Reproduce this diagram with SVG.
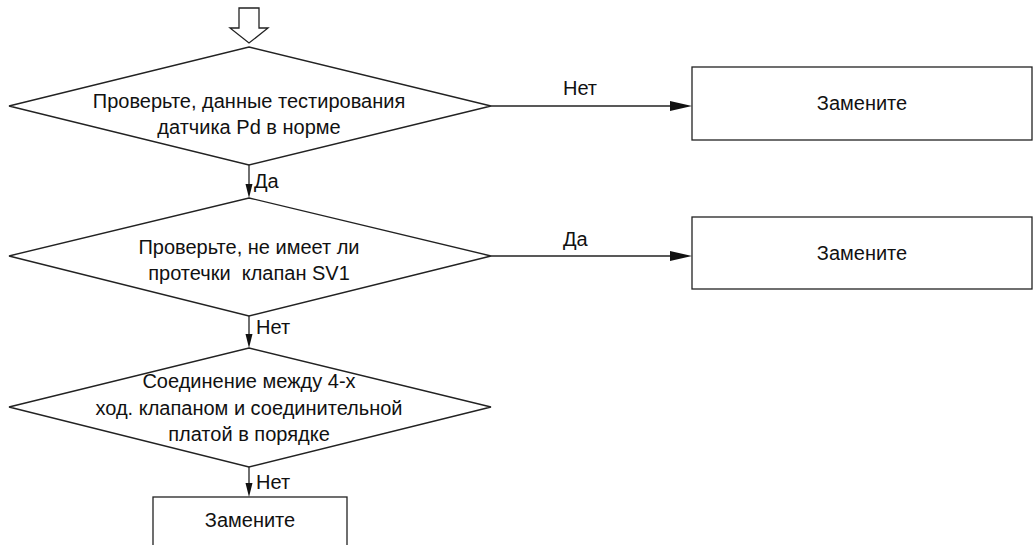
<svg xmlns="http://www.w3.org/2000/svg" width="1035" height="545" viewBox="0 0 1035 545">
<style>
.sh{fill:#fff;stroke:#222;stroke-width:1.3}
.ln{fill:none;stroke:#222;stroke-width:1.3}
.ah{fill:#111;stroke:none}
text{font-family:"Liberation Sans",Arial,sans-serif;font-size:20px;fill:#111}
.c{text-anchor:middle}
</style>
<rect width="1035" height="545" fill="#fff"/>
<g id="start-arrow">
<polygon class="sh" points="239,8 259,8 259,28 268,28 249,43 230,28 239,28"/>
</g>
<g id="d1">
<polygon class="sh" points="249,47 491,106 249,165 9,106"/>
<text class="c" x="249" y="108">Проверьте, данные тестирования</text>
<text class="c" x="249" y="134">датчика Pd в норме</text>
</g>
<g id="r1">
<rect class="sh" x="692" y="67" width="340" height="73"/>
<text class="c" x="862" y="110">Замените</text>
</g>
<g id="d2">
<polygon class="sh" points="249,198 491,256 249,316 9,256"/>
<text class="c" x="249" y="254">Проверьте, не имеет ли</text>
<text class="c" x="249" y="280" xml:space="preserve">протечки  клапан SV1</text>
</g>
<g id="r2">
<rect class="sh" x="692" y="217" width="340" height="72"/>
<text class="c" x="862" y="260">Замените</text>
</g>
<g id="d3">
<polygon class="sh" points="249,348 491,407 249,467 9,407"/>
<text class="c" x="249" y="388">Соединение между 4-х</text>
<text class="c" x="249" y="415">ход. клапаном и соединительной</text>
<text class="c" x="249" y="441">платой в порядке</text>
</g>
<g id="r3">
<rect class="sh" x="153" y="497" width="194" height="60"/>
<text class="c" x="250" y="527">Замените</text>
</g>
<g id="connectors">
<line class="ln" x1="491" y1="106" x2="672" y2="106"/>
<polygon class="ah" points="692,106 670,101 670,111"/>
<text class="c" x="580" y="95">Нет</text>
<line class="ln" x1="491" y1="256" x2="672" y2="256"/>
<polygon class="ah" points="692,256 670,251 670,261"/>
<text x="563" y="246">Да</text>
<line class="ln" x1="249" y1="165" x2="249" y2="186"/>
<polygon class="ah" points="249,198 245.5,184 252.5,184"/>
<text x="254" y="188">Да</text>
<line class="ln" x1="249" y1="316" x2="249" y2="336"/>
<polygon class="ah" points="249,348 245.5,334 252.5,334"/>
<text x="256" y="334">Нет</text>
<line class="ln" x1="249" y1="467" x2="249" y2="486"/>
<polygon class="ah" points="249,497 245.5,483 252.5,483"/>
<text x="256" y="489">Нет</text>
</g>
</svg>
